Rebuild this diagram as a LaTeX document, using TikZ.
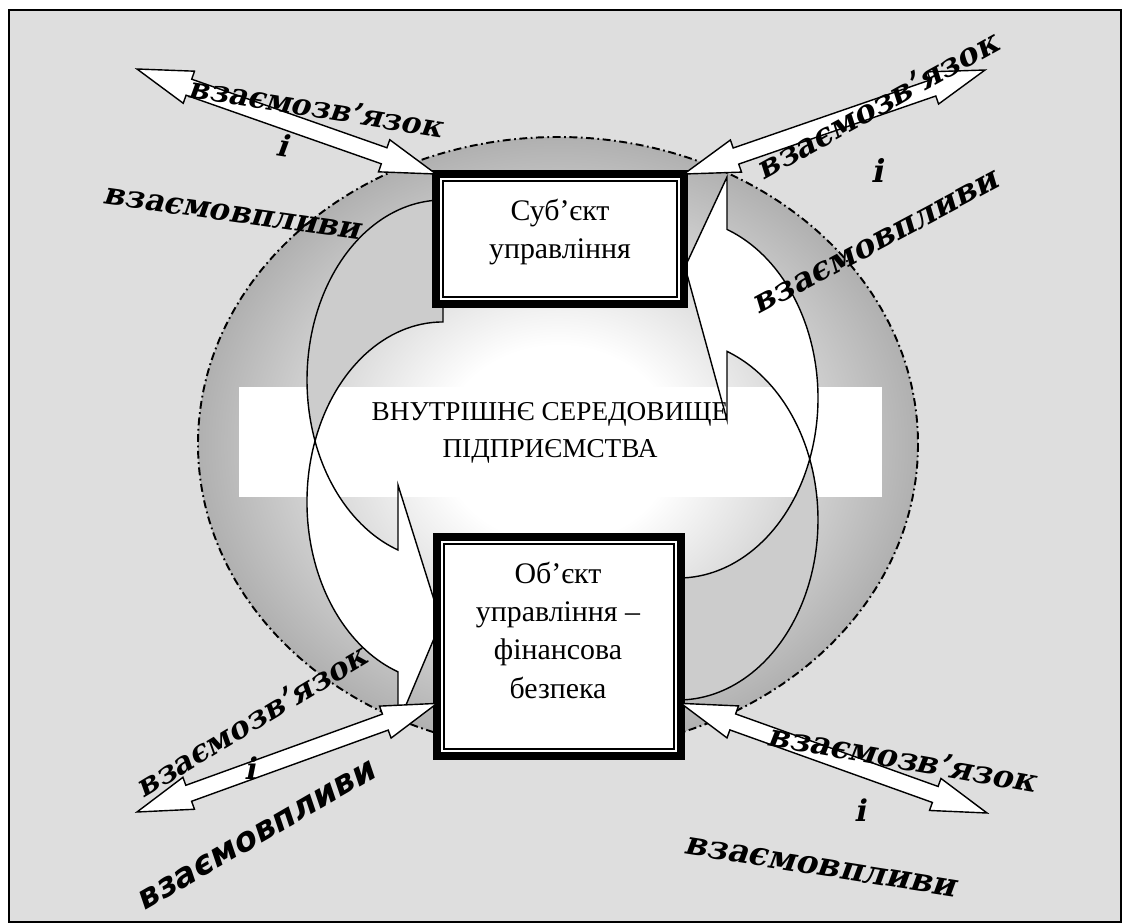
\documentclass[tikz,border=0pt]{standalone}
\usepackage{fontspec}
\setmainfont{Liberation Serif}
\newfontfamily\artserif[FakeSlant=0.2]{DejaVu Serif}
\newfontfamily\artsans[FakeSlant=0.2]{DejaVu Sans}
\usetikzlibrary{calc}
\definecolor{pagegray}{RGB}{222,222,222}
\definecolor{ringgray}{RGB}{153,153,153}
\definecolor{backgray}{RGB}{204,204,204}
\pgfdeclareradialshading{envshade}{\pgfpoint{0bp}{0bp}}{color(0bp)=(white); color(8bp)=(white); color(30bp)=(ringgray); color(50bp)=(ringgray)}

% double block arrow between two points
\newcommand{\linkarrow}[2]{%
  \draw[linkshape] (#1)
    -- ($(#1)!1.1cm!(#2)!0.34cm!90:(#2)$)
    -- ($(#1)!1.1cm!(#2)!0.17cm!90:(#2)$)
    -- ($(#2)!1.1cm!(#1)!0.17cm!-90:(#1)$)
    -- ($(#2)!1.1cm!(#1)!0.34cm!-90:(#1)$)
    -- (#2)
    -- ($(#2)!1.1cm!(#1)!0.34cm!90:(#1)$)
    -- ($(#2)!1.1cm!(#1)!0.17cm!90:(#1)$)
    -- ($(#1)!1.1cm!(#2)!0.17cm!-90:(#2)$)
    -- ($(#1)!1.1cm!(#2)!0.34cm!-90:(#2)$)
    -- cycle;}

\begin{document}
\begin{tikzpicture}[x=0.02cm, y=-0.02cm,
  frame/.style={draw, line width=4.5pt, fill=white, outer sep=0pt, inner sep=0pt},
  innerline/.style={line width=0.8pt},
  boxtext/.style={align=center, font=\rmfamily\fontsize{17}{21.8}\selectfont},
  envtext/.style={align=center, font=\rmfamily\fontsize{15.5}{21}\selectfont},
  backface/.style={draw, line width=0.8pt, fill=backgray},
  frontface/.style={draw, line width=0.8pt, fill=white},
  linkshape/.style={draw, line width=0.8pt, fill=white},
  wordart/.style={font=\artserif\bfseries\fontsize{#1}{#1}\selectfont, inner sep=0pt},
  wordsans/.style={font=\artsans\bfseries\fontsize{#1}{#1}\selectfont, inner sep=0pt}
]
  \useasboundingbox (0,0) rectangle (1123,923);

  % page frame
  \draw[fill=pagegray, line width=1.1pt] (9,10) rectangle (1121,922);

  % inner environment
  \shadedraw[shading=envshade, line width=1.1pt, dash pattern=on 4.5pt off 2pt on 1pt off 2pt]
    (558,444) ellipse [x radius=360, y radius=307];
  \fill[white] (239,387) rectangle (882,497);

  % left curved arrow
  \path[backface] (443,200) arc[start angle=-90, end angle=-199.8, x radius=136, y radius=180]
    arc[start angle=199.8, end angle=270, x radius=136, y radius=180] -- cycle;
  \path[frontface] (315,441) arc[start angle=199.8, end angle=109.3, x radius=136, y radius=180]
    -- (398,724) -- (441,622) -- (398,485) -- (398,550)
    arc[start angle=109.3, end angle=160.2, x radius=136, y radius=180] -- cycle;

  % right curved arrow
  \path[backface] (678,700) arc[start angle=90, end angle=-19.8, x radius=140, y radius=180]
    arc[start angle=19.8, end angle=90, x radius=140, y radius=180] -- cycle;
  \path[frontface] (809.7,459) arc[start angle=19.8, end angle=-69.5, x radius=140, y radius=180]
    -- (727,177) -- (685,267) -- (727,420) -- (727,351.4)
    arc[start angle=-69.5, end angle=-19.8, x radius=140, y radius=180] -- cycle;

  % boxes
  \node[frame, minimum width=4.96cm, minimum height=2.6cm] (subj) at (560,239) {};
  \node[frame, minimum width=4.88cm, minimum height=4.38cm] (obj) at (559,646.5) {};
  \draw[innerline] ([shift={(7,7)}]subj.north west) rectangle ([shift={(-7,-7)}]subj.south east);
  \draw[innerline] ([shift={(7,7)}]obj.north west) rectangle ([shift={(-7,-7)}]obj.south east);
  \node[boxtext] (subjtext) at (560,232) {Суб’єкт\\управління};
  \node[boxtext] (objtext) at (558,630) {Об’єкт\\управління –\\фінансова\\безпека};

  % outer links
  \coordinate (tlfar) at (137,69);
  \coordinate (trfar) at (985,70);
  \coordinate (blfar) at (137,812);
  \coordinate (brfar) at (987,813);
  \linkarrow{subj.north west}{tlfar}
  \linkarrow{subj.north east}{trfar}
  \linkarrow{obj.205}{blfar}
  \linkarrow{obj.-25}{brfar}

  \node[envtext] (env) at (550,433) {ВНУТРІШНЄ СЕРЕДОВИЩЕ\\ПІДПРИЄМСТВА};

  % labels
  \node[wordart=17, rotate=-9] (linktl) at (316,107) {взаємозв’язок};
  \node[wordart=17, rotate=-9] (andtl) at (283,145) {і};
  \node[wordart=17.5, rotate=-8] (infltl) at (232,214) {взаємовпливи};

  \node[wordart=18, rotate=29] (linktr) at (877,105) {взаємозв’язок};
  \node[wordart=18] (andtr) at (877,170) {і};
  \node[wordart=18.5, rotate=28] (infltr) at (876,243) {взаємовпливи};

  \node[wordart=17.5, rotate=31] (linkbl) at (251,721) {взаємозв’язок};
  \node[wordart=17] (andbl) at (250,768) {і};
  \node[wordsans=19, rotate=30] (inflbl) at (256,836) {взаємовпливи};

  \node[wordart=18, rotate=-10] (linkbr) at (902,758) {взаємозв’язок};
  \node[wordart=17] (andbr) at (860,810) {і};
  \node[wordart=18.5, rotate=-9] (inflbr) at (820,867) {взаємовпливи};
\end{tikzpicture}
\end{document}
